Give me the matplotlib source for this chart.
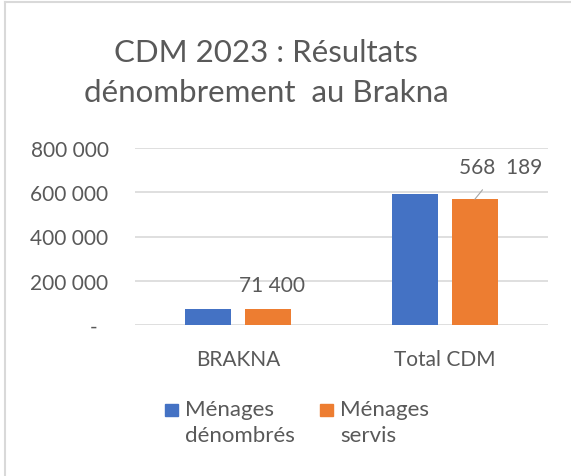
import matplotlib
matplotlib.use("Agg")
import matplotlib.pyplot as plt
import numpy as np
from matplotlib.lines import Line2D
from matplotlib.patches import Rectangle
from matplotlib.ticker import FuncFormatter

plt.rcParams["font.family"] = ["Lato", "DejaVu Sans"]

categories = ["BRAKNA", "Total CDM"]
series_names = ["Ménages\ndénombrés", "Ménages\nservis"]
menages_denombres = [73000, 592000]
menages_servis = [71400, 568189]
servis_labels = ["71 400", "568  189"]
yticks = [0, 200000, 400000, 600000, 800000]
title_lines = ["CDM 2023 : Résultats", "dénombrement  au Brakna"]

GREY = "#595959"
BLUE = "#4472C4"
ORANGE = "#ED7D31"
W, H = 571, 477


def fx(px):
    return px / W


def fy(py):
    return 1 - py / H


fig = plt.figure(figsize=(W / 100, H / 100), dpi=100)
ax = fig.add_axes([fx(135), fy(326), 413 / W, 177 / H])

x = np.arange(len(categories))
w = 0.223
off = 0.1455
ax.bar(x - off, menages_denombres, w, color=BLUE, zorder=3)
ax.bar(x + off, menages_servis, w, color=ORANGE, zorder=3)

ax.set_xlim(-0.5, 1.5)
ax.set_ylim(0, 800000)
ax.set_yticks(yticks)
ax.yaxis.set_major_formatter(FuncFormatter(
    lambda v, p: "-  " if v == 0 else f"{int(v):,}".replace(",", " ")))
ax.set_xticks(x)
ax.set_xticklabels(categories)
ax.tick_params(axis="both", length=0, colors=GREY, labelsize=15)
ax.tick_params(axis="y", pad=19)
ax.tick_params(axis="x", pad=17)
ax.grid(axis="y", color="#d9d9d9", lw=1.2, zorder=0)
for s in ax.spines.values():
    s.set_visible(False)

# data labels on the orange series
ax.annotate(servis_labels[0], (x[0] + off, menages_servis[0]), xytext=(4, 24),
            textcoords="offset pixels", ha="center", va="center",
            fontsize=15, color=GREY)
ax.annotate(servis_labels[1], (x[1] + off, menages_servis[1]), xytext=(26, 32),
            textcoords="offset pixels", ha="center", va="center",
            fontsize=15, color=GREY,
            arrowprops=dict(arrowstyle="-", color="#a6a6a6", lw=0.8,
                            shrinkA=9, shrinkB=0))

# title, two lines
for line, base in zip(title_lines, [62, 102]):
    fig.text(fx(266), fy(base), line, ha="center", va="baseline",
             fontsize=22.5, color=GREY)

# legend (square aligned with first line, as in the original)
for i, (name, col) in enumerate(zip(series_names, [BLUE, ORANGE])):
    x0 = [165, 320][i]
    fig.patches.append(Rectangle((fx(x0), fy(417)), 13 / W, 12 / H,
                                 transform=fig.transFigure, color=col))
    fig.text(fx(x0 + 20), fy(400), name, ha="left", va="top",
             fontsize=16, color=GREY, linespacing=1.35)

# chart border (top and left)
fig.add_artist(Line2D([fx(5), 1], [fy(3), fy(3)], color="#d9d9d9", lw=1.5))
fig.add_artist(Line2D([fx(5), fx(5)], [0, fy(3)], color="#d9d9d9", lw=1.5))

fig.savefig("out.png", dpi=100)
